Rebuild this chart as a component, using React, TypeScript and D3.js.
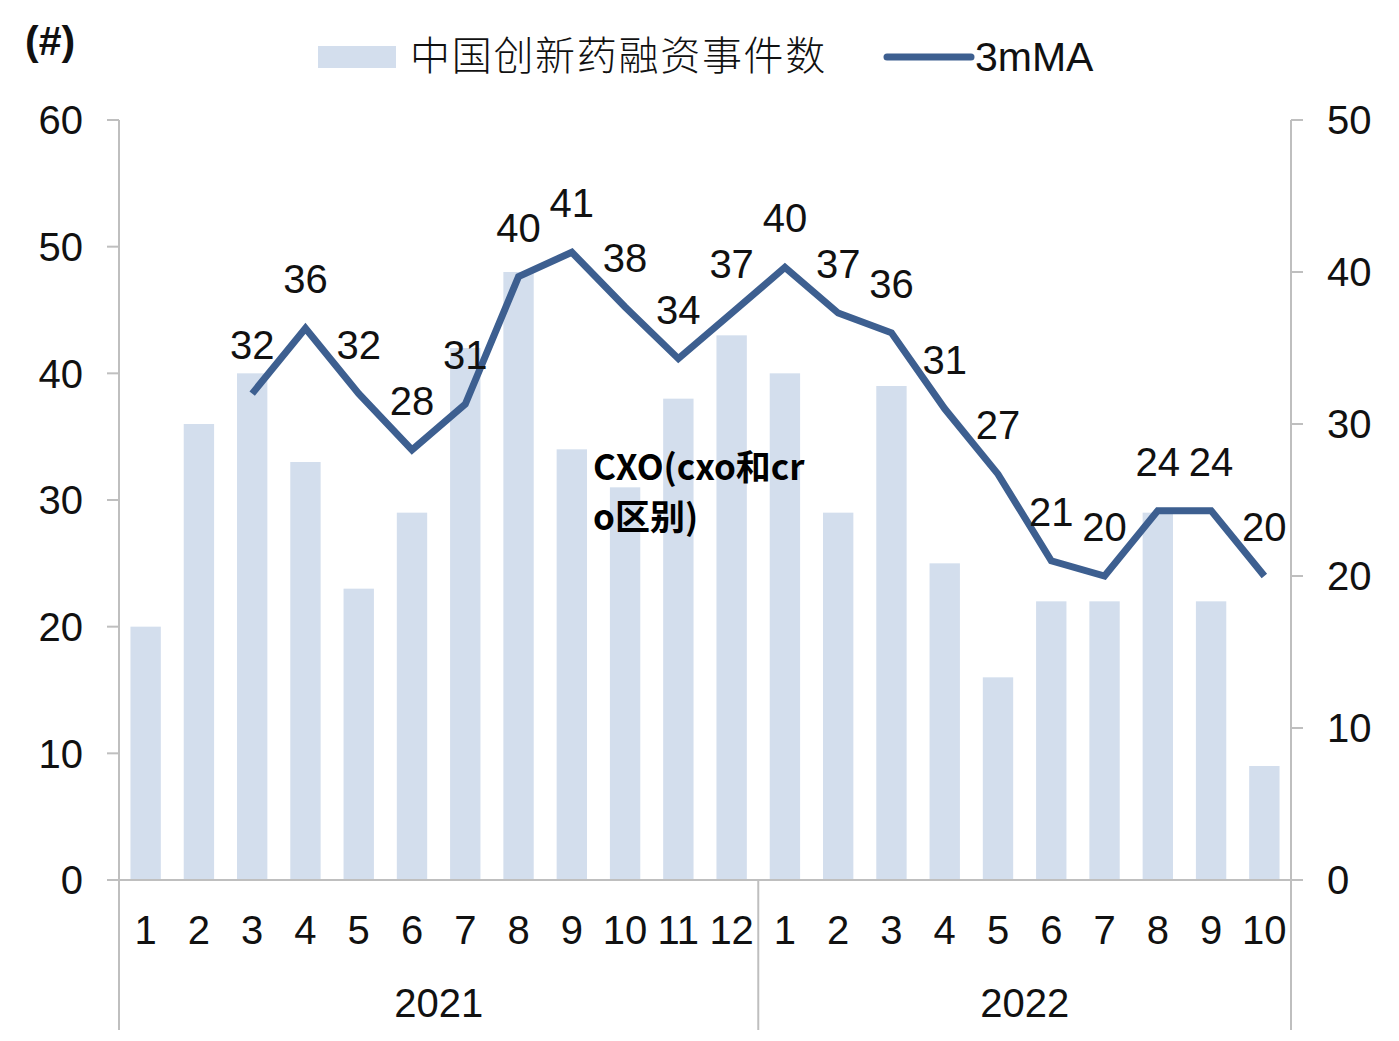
import React from 'react';
import * as d3 from 'd3';

const months = ['1','2','3','4','5','6','7','8','9','10','11','12','1','2','3','4','5','6','7','8','9','10'];
const years = [
  { label: '2021', from: 0, to: 12 },
  { label: '2022', from: 12, to: 22 },
];
const deals = [20,36,40,33,23,29,42,48,34,31,38,43,40,29,39,25,16,22,22,29,22,9];
const ma3: (number | null)[] = [null,null,32,36.3,32,28.3,31.3,39.7,41.3,37.7,34.3,37.3,40.3,37.3,36,31,26.7,21,20,24.3,24.3,20];
const leftTicks = [0,10,20,30,40,50,60];
const rightTicks = [0,10,20,30,40,50];

const W = 1399, H = 1041;
const X0 = 119, X1 = 1291, Y0 = 880, Y1 = 120, AXIS_BOTTOM = 1030;
const BAR = '#d3deed';
const LINE = '#3d5f90';
const AXIS = '#bfbfbf';
const FONT = '"Liberation Sans", Arial, sans-serif';
const CJK = '"Noto Sans CJK SC", sans-serif';
const FS = 40;

export default function App() {
  const idx = months.map((_, i) => i);
  const x = d3.scaleBand<number>().domain(idx).range([X0, X1]).paddingInner(0.43).paddingOuter(0.215);
  const step = x.step();
  const cx = (i: number) => (x(i) as number) + x.bandwidth() / 2;
  const yL = d3.scaleLinear().domain([0, 60]).range([Y0, Y1]);
  const yR = d3.scaleLinear().domain([0, 50]).range([Y0, Y1]);

  const linePts = ma3.map((v, i) => ({ v, i })).filter(d => d.v !== null) as { v: number; i: number }[];
  const lineGen = d3.line<{ v: number; i: number }>().x(d => cx(d.i)).y(d => yR(d.v));

  return (
    <svg width={W} height={H} style={{ position: 'absolute', left: 0, top: 0, background: '#fff' }}>
      {/* unit */}
      <text x={25} y={55} fontFamily={FONT} fontWeight="bold" fontSize={41} fill="#111">(#)</text>

      {/* legend */}
      <rect x={318} y={46} width={78} height={22} fill={BAR} />
      <text x={410} y={70} fontFamily={CJK} fontWeight={300} fontSize={40} letterSpacing={1.7} fill="#111">中国创新药融资事件数</text>
      <line x1={887} x2={971} y1={57} y2={57} stroke={LINE} strokeWidth={7} strokeLinecap="round" />
      <text x={975} y={71} fontFamily={FONT} fontSize={41} fill="#111">3mMA</text>

      {/* bars */}
      {deals.map((v, i) => (
        <rect key={i} x={x(i)} y={yL(v)} width={x.bandwidth()} height={Y0 - yL(v)} fill={BAR} />
      ))}

      {/* axes */}
      <line x1={X0} x2={X0} y1={Y1} y2={AXIS_BOTTOM} stroke={AXIS} strokeWidth={2} />
      <line x1={X1} x2={X1} y1={Y1} y2={AXIS_BOTTOM} stroke={AXIS} strokeWidth={2} />
      <line x1={X0 - 12} x2={X1 + 12} y1={Y0} y2={Y0} stroke={AXIS} strokeWidth={2} />
      {years.slice(1).map(yr => (
        <line key={yr.label} x1={X0 + step * yr.from} x2={X0 + step * yr.from} y1={Y0} y2={AXIS_BOTTOM} stroke={AXIS} strokeWidth={2} />
      ))}
      {leftTicks.map(t => (
        <g key={'l' + t}>
          <line x1={X0 - 12} x2={X0} y1={yL(t)} y2={yL(t)} stroke={AXIS} strokeWidth={2} />
          <text x={83} y={yL(t)} dy="0.36em" textAnchor="end" fontFamily={FONT} fontSize={FS} fill="#111">{t}</text>
        </g>
      ))}
      {rightTicks.map(t => (
        <g key={'r' + t}>
          <line x1={X1} x2={X1 + 12} y1={yR(t)} y2={yR(t)} stroke={AXIS} strokeWidth={2} />
          <text x={1327} y={yR(t)} dy="0.36em" textAnchor="start" fontFamily={FONT} fontSize={FS} fill="#111">{t}</text>
        </g>
      ))}
      {months.map((m, i) => (
        <text key={'m' + i} x={cx(i)} y={944} textAnchor="middle" fontFamily={FONT} fontSize={FS} fill="#111">{m}</text>
      ))}
      {years.map(yr => (
        <text key={yr.label} x={X0 + step * (yr.from + yr.to) / 2} y={1017} textAnchor="middle" fontFamily={FONT} fontSize={FS} fill="#111">{yr.label}</text>
      ))}

      {/* line */}
      <path d={lineGen(linePts) || ''} fill="none" stroke={LINE} strokeWidth={7} strokeLinejoin="miter" />
      {linePts.map(d => (
        <text key={'v' + d.i} x={cx(d.i)} y={yR(d.v) - 35} textAnchor="middle" fontFamily={FONT} fontSize={FS} fill="#111">{Math.round(d.v)}</text>
      ))}

      {/* watermark */}
      <text fontFamily={CJK} fontWeight="bold" fontSize={35} fill="#000">
        <tspan x={593} y={480}>CXO(cxo和cr</tspan>
        <tspan x={593} y={530}>o区别)</tspan>
      </text>
    </svg>
  );
}
